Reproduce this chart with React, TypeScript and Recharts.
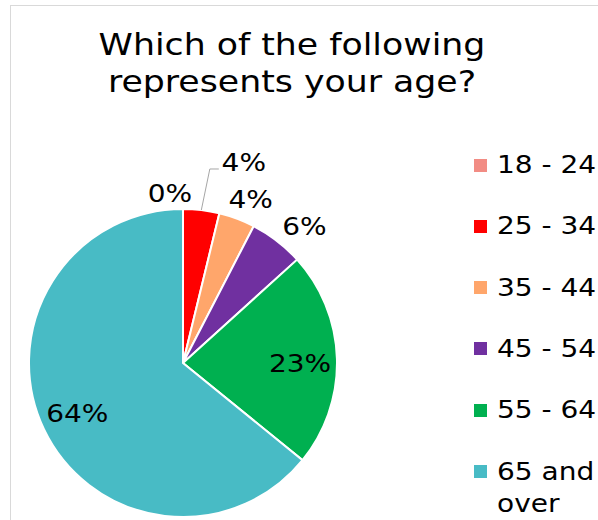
import React from 'react';
import { Cell, Legend, Pie, PieChart } from 'recharts';

const ageGroups = ['18 - 24', '25 - 34', '35 - 44', '45 - 54', '55 - 64', '65 and over'];
const responseShare = [0, 3.8, 3.8, 5.7, 22.6, 64.2];
const sliceColors = ['#F28C84', '#FF0000', '#FFA66B', '#7030A0', '#00B050', '#48BBC5'];

// label placement around the pie: distance from centre and a small angle nudge (deg, clockwise)
const labelRadius = [170, 210, 177, 183, 117, 117];
const labelNudge = [-4.4, 10, 2, 4, 1.7, 0];

const FONT = '"DejaVu Sans", Verdana, sans-serif';
const STRETCH = 1.12;

const pieData = ageGroups.map((name, i) => ({
  name,
  value: responseShare[i],
  fill: sliceColors[i],
}));

const renderLabel = (props: any) => {
  const { cx, cy, midAngle, outerRadius, index, value } = props;
  const theta = ((90 - midAngle + labelNudge[index]) * Math.PI) / 180;
  const x = cx + labelRadius[index] * Math.sin(theta);
  const y = cy - labelRadius[index] * Math.cos(theta);
  const text = `${Math.round(value)}%`;
  let leader = null;
  if (index === 1) {
    const a = ((90 - midAngle) * Math.PI) / 180;
    const sx = cx + outerRadius * Math.sin(a);
    const sy = cy - outerRadius * Math.cos(a);
    leader = (
      <polyline
        points={`${sx},${sy} ${x - 34},${y + 7} ${x - 25},${y + 7}`}
        fill="none"
        stroke="#a6a6a6"
        strokeWidth={1}
      />
    );
  }
  return (
    <g key={`lbl-${index}`}>
      {leader}
      <text
        x={x}
        y={y}
        textAnchor="middle"
        dominantBaseline="central"
        fontFamily={FONT}
        fontSize={25}
        fill="#000"
        transform={`translate(${x} ${y}) scale(${STRETCH} 1) translate(${-x} ${-y})`}
      >
        {text}
      </text>
    </g>
  );
};

const renderLegend = (props: any) => {
  const { payload } = props;
  return (
    <div style={{ position: 'relative', width: 200, height: 380 }}>
      {(payload || []).map((entry: any, i: number) => (
        <div key={entry.value} style={{ position: 'absolute', left: 0, top: i * 61.3, height: 61.3, width: 200 }}>
          <div
            style={{
              position: 'absolute',
              left: 0,
              top: 16 - 6.5,
              width: 13,
              height: 13,
              background: entry.color,
            }}
          />
          <div
            style={{
              position: 'absolute',
              left: 23,
              top: 0,
              width: 100,
              fontFamily: FONT,
              fontSize: 25,
              lineHeight: '32px',
              color: '#000',
              transform: `scaleX(${STRETCH})`,
              transformOrigin: 'left top',
            }}
          >
            {entry.value}
          </div>
        </div>
      ))}
    </div>
  );
};

export default function App() {
  return (
    <div
      style={{
        position: 'fixed',
        left: 0,
        top: 0,
        width: 598,
        height: 520,
        overflow: 'hidden',
        background: '#fff',
      }}
    >
      <div
        style={{
          position: 'absolute',
          left: 10,
          top: 5,
          width: 700,
          height: 700,
          border: '1px solid #d9d9d9',
        }}
      />
      <div
        style={{
          position: 'absolute',
          left: 0,
          top: 26,
          width: 584,
          textAlign: 'center',
          fontFamily: FONT,
          fontSize: 31,
          lineHeight: '37px',
          color: '#000',
          transform: `scaleX(${STRETCH})`,
          transformOrigin: '292px 0',
        }}
      >
        Which of the following
        <br />
        represents your age?
      </div>
      <div style={{ position: 'absolute', left: 0, top: 0 }}>
        <PieChart width={598} height={520} margin={{ top: 0, right: 0, bottom: 0, left: 0 }}>
          <Pie
            data={pieData}
            dataKey="value"
            nameKey="name"
            cx={183}
            cy={363}
            outerRadius={154}
            startAngle={90}
            endAngle={-270}
            stroke="#ffffff"
            strokeWidth={2}
            label={renderLabel}
            labelLine={false}
            isAnimationActive={false}
          >
            {pieData.map((entry) => (
              <Cell key={entry.name} fill={entry.fill} />
            ))}
          </Pie>
          <Legend
            layout="vertical"
            align="right"
            verticalAlign="top"
            content={renderLegend}
            wrapperStyle={{ left: 474, top: 149, width: 200 }}
          />
        </PieChart>
      </div>
    </div>
  );
}
